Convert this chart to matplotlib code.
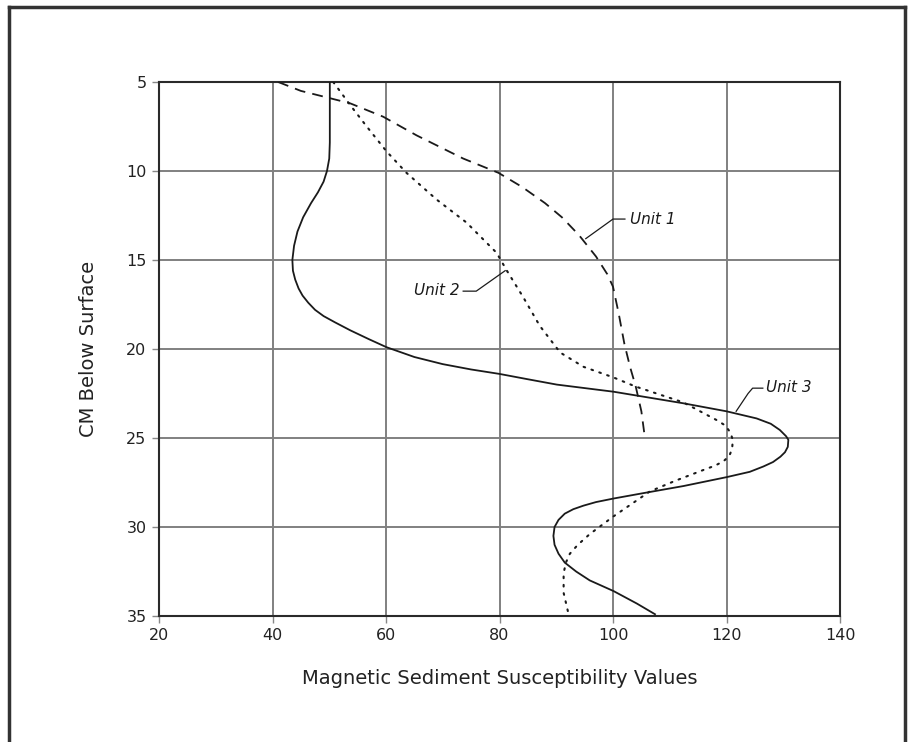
import matplotlib
matplotlib.use("Agg")
import matplotlib.pyplot as plt
from matplotlib.lines import Line2D

# --------------------------------------------------------------------
# Data (x = susceptibility, y = depth in cm)
# --------------------------------------------------------------------
unit1_x = [41.0, 45.0, 50.0, 53.7, 59.5, 65.4, 73.6, 79.8, 84.0, 88.0,
           91.0, 94.0, 97.0, 99.0, 100.0, 101.0, 102.0, 103.0, 104.0, 105.0, 105.5]
unit1_y = [5.0, 5.5, 5.9, 6.2, 6.95, 8.0, 9.3, 10.1, 10.9, 11.8,
           12.6, 13.6, 14.8, 15.8, 16.5, 18.0, 19.7, 21.0, 22.1, 23.5, 24.7]

unit2_x = [50.7, 53.7, 56.6, 60.1, 63.6, 68.9, 74.2, 79.5, 81.3, 84.2,
           87.1, 90.7, 94.8, 100.1, 103.9, 112.4, 118.3, 119.8, 120.7, 121.1,
           121.0, 120.5, 119.5, 118.0, 115.9, 111.0, 106.5, 100.1, 95.9, 93.8,
           92.4, 91.7, 91.3, 91.3, 92.1]
unit2_y = [5.0, 6.3, 7.5, 8.9, 10.1, 11.6, 12.9, 14.6, 15.6, 17.1,
           18.7, 20.2, 21.0, 21.6, 22.1, 23.0, 24.0, 24.3, 24.7, 25.1,
           25.6, 26.0, 26.3, 26.55, 26.8, 27.4, 28.0, 29.4, 30.4, 31.0,
           31.5, 32.0, 32.6, 33.7, 34.8]

unit3_x = [50.1, 50.1, 50.0, 49.6, 49.0, 48.0, 46.8, 45.4, 44.4, 43.8,
           43.5, 43.6, 44.0, 44.6, 45.3, 46.3, 47.5, 49.0, 51.0, 53.7,
           57.0, 60.1, 65.0, 70.0, 75.0, 80.0, 85.0, 90.1, 100.1, 112.4,
           120.0, 125.3, 127.8, 129.4, 130.5, 130.9, 130.8, 130.3, 129.5, 128.2,
           126.5, 124.1, 120.0, 112.4, 105.3, 100.1, 97.0, 94.8, 93.0, 91.5,
           90.4, 89.7, 89.5, 89.7, 90.4, 91.5, 93.5, 95.9, 100.1, 104.2, 107.4]
unit3_y = [5.0, 8.4, 9.3, 10.0, 10.6, 11.2, 11.8, 12.6, 13.4, 14.2,
           15.0, 15.6, 16.1, 16.6, 17.0, 17.4, 17.8, 18.15, 18.5, 18.95,
           19.45, 19.9, 20.45, 20.85, 21.15, 21.4, 21.7, 22.0, 22.4, 23.05,
           23.5, 23.9, 24.2, 24.55, 24.9, 25.1, 25.5, 25.8, 26.05, 26.35,
           26.6, 26.9, 27.2, 27.7, 28.1, 28.4, 28.6, 28.8, 29.0, 29.25,
           29.6, 30.0, 30.5, 31.0, 31.5, 32.0, 32.5, 33.0, 33.6, 34.3, 34.9]

x_ticks = [20, 40, 60, 80, 100, 120, 140]
y_ticks = [5, 10, 15, 20, 25, 30, 35]

# label text, text position, leader path
labels = {
    "Unit 1": {"text_xy": (103.0, 12.7), "ha": "left",
               "path": ([95.2, 100.0, 102.1], [13.8, 12.7, 12.7])},
    "Unit 2": {"text_xy": (73.0, 16.7), "ha": "right",
               "path": ([73.6, 75.9, 81.0], [16.75, 16.75, 15.6])},
    "Unit 3": {"text_xy": (127.0, 22.15), "ha": "left",
               "path": ([121.7, 123.8, 124.6, 126.4], [23.5, 22.5, 22.2, 22.2])},
}

# --------------------------------------------------------------------
# Figure
# --------------------------------------------------------------------
W, H = 913, 742
fig = plt.figure(figsize=(W / 100, H / 100), dpi=100)
fig.patch.set_facecolor("white")

L, R, T, B = 159, 840, 82, 616
ax = fig.add_axes([L / W, 1 - B / H, (R - L) / W, (B - T) / H])

ax.plot(unit1_x, unit1_y, color="#1a1a1a", lw=1.3, linestyle=(0, (6, 4)), zorder=5)
ax.plot(unit2_x, unit2_y, color="#1a1a1a", lw=1.5, linestyle=(0, (0.8, 3.2)),
        dash_capstyle="round", zorder=5)
ax.plot(unit3_x, unit3_y, color="#1a1a1a", lw=1.3, linestyle="-",
        solid_joinstyle="round", zorder=5)

for name, d in labels.items():
    px, py = d["path"]
    ax.plot(px, py, color="#1a1a1a", lw=0.9, zorder=6)
    ax.text(d["text_xy"][0], d["text_xy"][1], name, ha=d["ha"], va="center",
            fontsize=11, style="italic", color="#1a1a1a", zorder=7)

ax.set_xlim(20, 140)
ax.set_ylim(35, 5)
ax.set_xticks(x_ticks)
ax.set_yticks(y_ticks)
ax.grid(True, color="#808080", linewidth=1.4)
ax.set_axisbelow(True)

for s in ax.spines.values():
    s.set_color("#2a2a2a")
    s.set_linewidth(1.5)

ax.tick_params(axis="both", direction="out", length=5, width=1,
               color="#888888", labelsize=11.5, labelcolor="#222222", pad=4)

ax.set_xlabel("Magnetic Sediment Susceptibility Values", fontsize=14,
              color="#222222", labelpad=18)
ax.set_ylabel("CM Below Surface", fontsize=14, color="#222222", labelpad=20)

# outer frame of the figure
frame_kw = dict(color="#333333", linewidth=2.5, transform=None)
fig.add_artist(Line2D([9, 9], [0, H - 7], **frame_kw))
fig.add_artist(Line2D([9, 905], [H - 7, H - 7], **frame_kw))
fig.add_artist(Line2D([905, 905], [0, H - 7], **frame_kw))

fig.savefig("out.png", dpi=100)
